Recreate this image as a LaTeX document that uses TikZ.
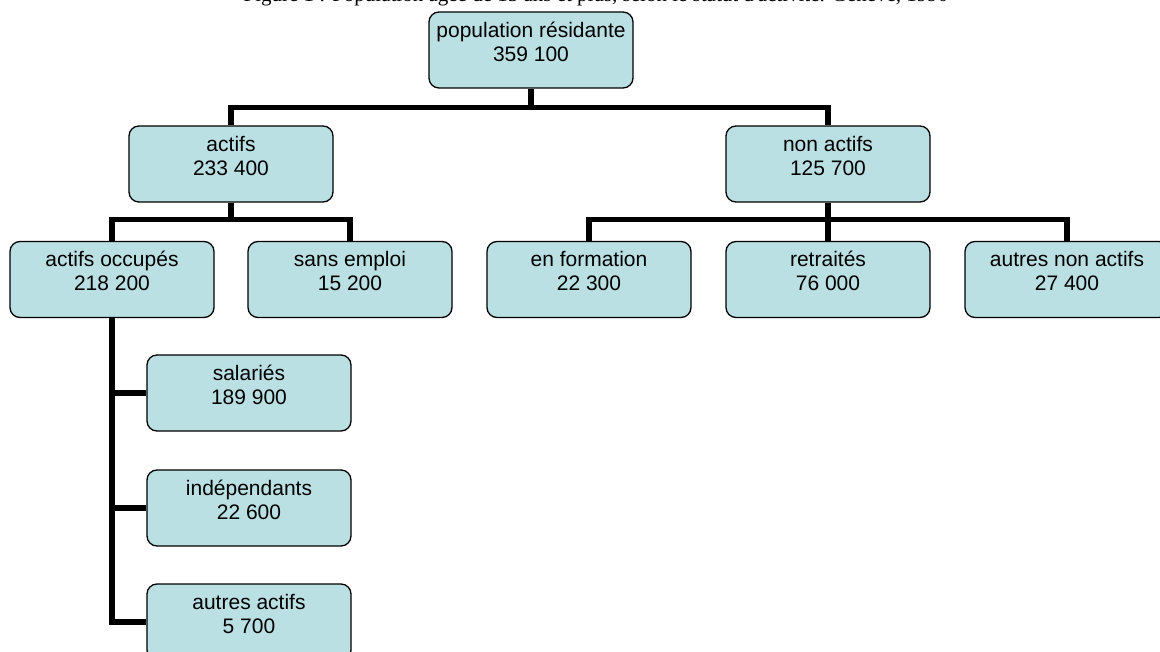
\documentclass[tikz,border=0pt]{standalone}
\usepackage{fontspec}
\setmainfont{Liberation Sans}
\newfontfamily\captionfont{Liberation Serif}
\usetikzlibrary{positioning}

\definecolor{boxfill}{RGB}{186,224,227}

\tikzset{
  orgbox/.style={draw, line width=1.3pt, rounded corners=10pt, fill=boxfill,
    minimum width=204pt, minimum height=76pt, inner sep=0pt, align=center,
    text depth=17pt, font=\fontsize{21}{24}\selectfont},
  link/.style={line width=5.5pt},
  legend/.style={anchor=base, inner sep=0pt, font=\captionfont\fontsize{21}{24}\selectfont}
}

\begin{document}
\begin{tikzpicture}[x=1pt, y=-1pt, line join=miter]
  \useasboundingbox (0,0) rectangle (1160,652);
  \clip (0,0) rectangle (1160,652);
  \node[legend] (titre) at (596,2) {Figure 1 : Population âgée de 15 ans et plus, selon le statut d'activité. Genève, 1990};

  \node[orgbox] (pop) at (531,50) {population résidante\\359 100};

  \node[orgbox] (actifs) at (231,164) {actifs\\233 400};
  \node[orgbox] (nonactifs) at (828,164) {non actifs\\125 700};

  \node[orgbox] (occupes) at (112,279.5) {actifs occupés\\218 200};
  \node[orgbox] (sansemploi) at (350,279.5) {sans emploi\\15 200};
  \node[orgbox] (formation) at (589,279.5) {en formation\\22 300};
  \node[orgbox] (retraites) at (828,279.5) {retraités\\76 000};
  \node[orgbox] (autresnon) at (1067,279.5) {autres non actifs\\27 400};

  \node[orgbox] (salaries) at (249,393) {salariés\\189 900};
  \node[orgbox] (independants) at (249,508) {indépendants\\22 600};
  \node[orgbox] (autresact) at (249,622) {autres actifs\\5 700};

  \draw[link] (pop.south) -- ++(0,19) coordinate (j1) -| (actifs.north);
  \draw[link] (j1) -| (nonactifs.north);

  \draw[link] (actifs.south) -- ++(0,17) coordinate (j2) -| (occupes.north);
  \draw[link] (j2) -| (sansemploi.north);

  \draw[link] (nonactifs.south) -- ++(0,17) coordinate (j3) -| (formation.north);
  \draw[link] (j3) -| (autresnon.north);
  \draw[link] (j3) -- (retraites.north);

  \draw[link] (occupes.south) |- (autresact.west);
  \draw[link] (occupes.south) |- (independants.west);
  \draw[link] (occupes.south) |- (salaries.west);
\end{tikzpicture}
\end{document}
